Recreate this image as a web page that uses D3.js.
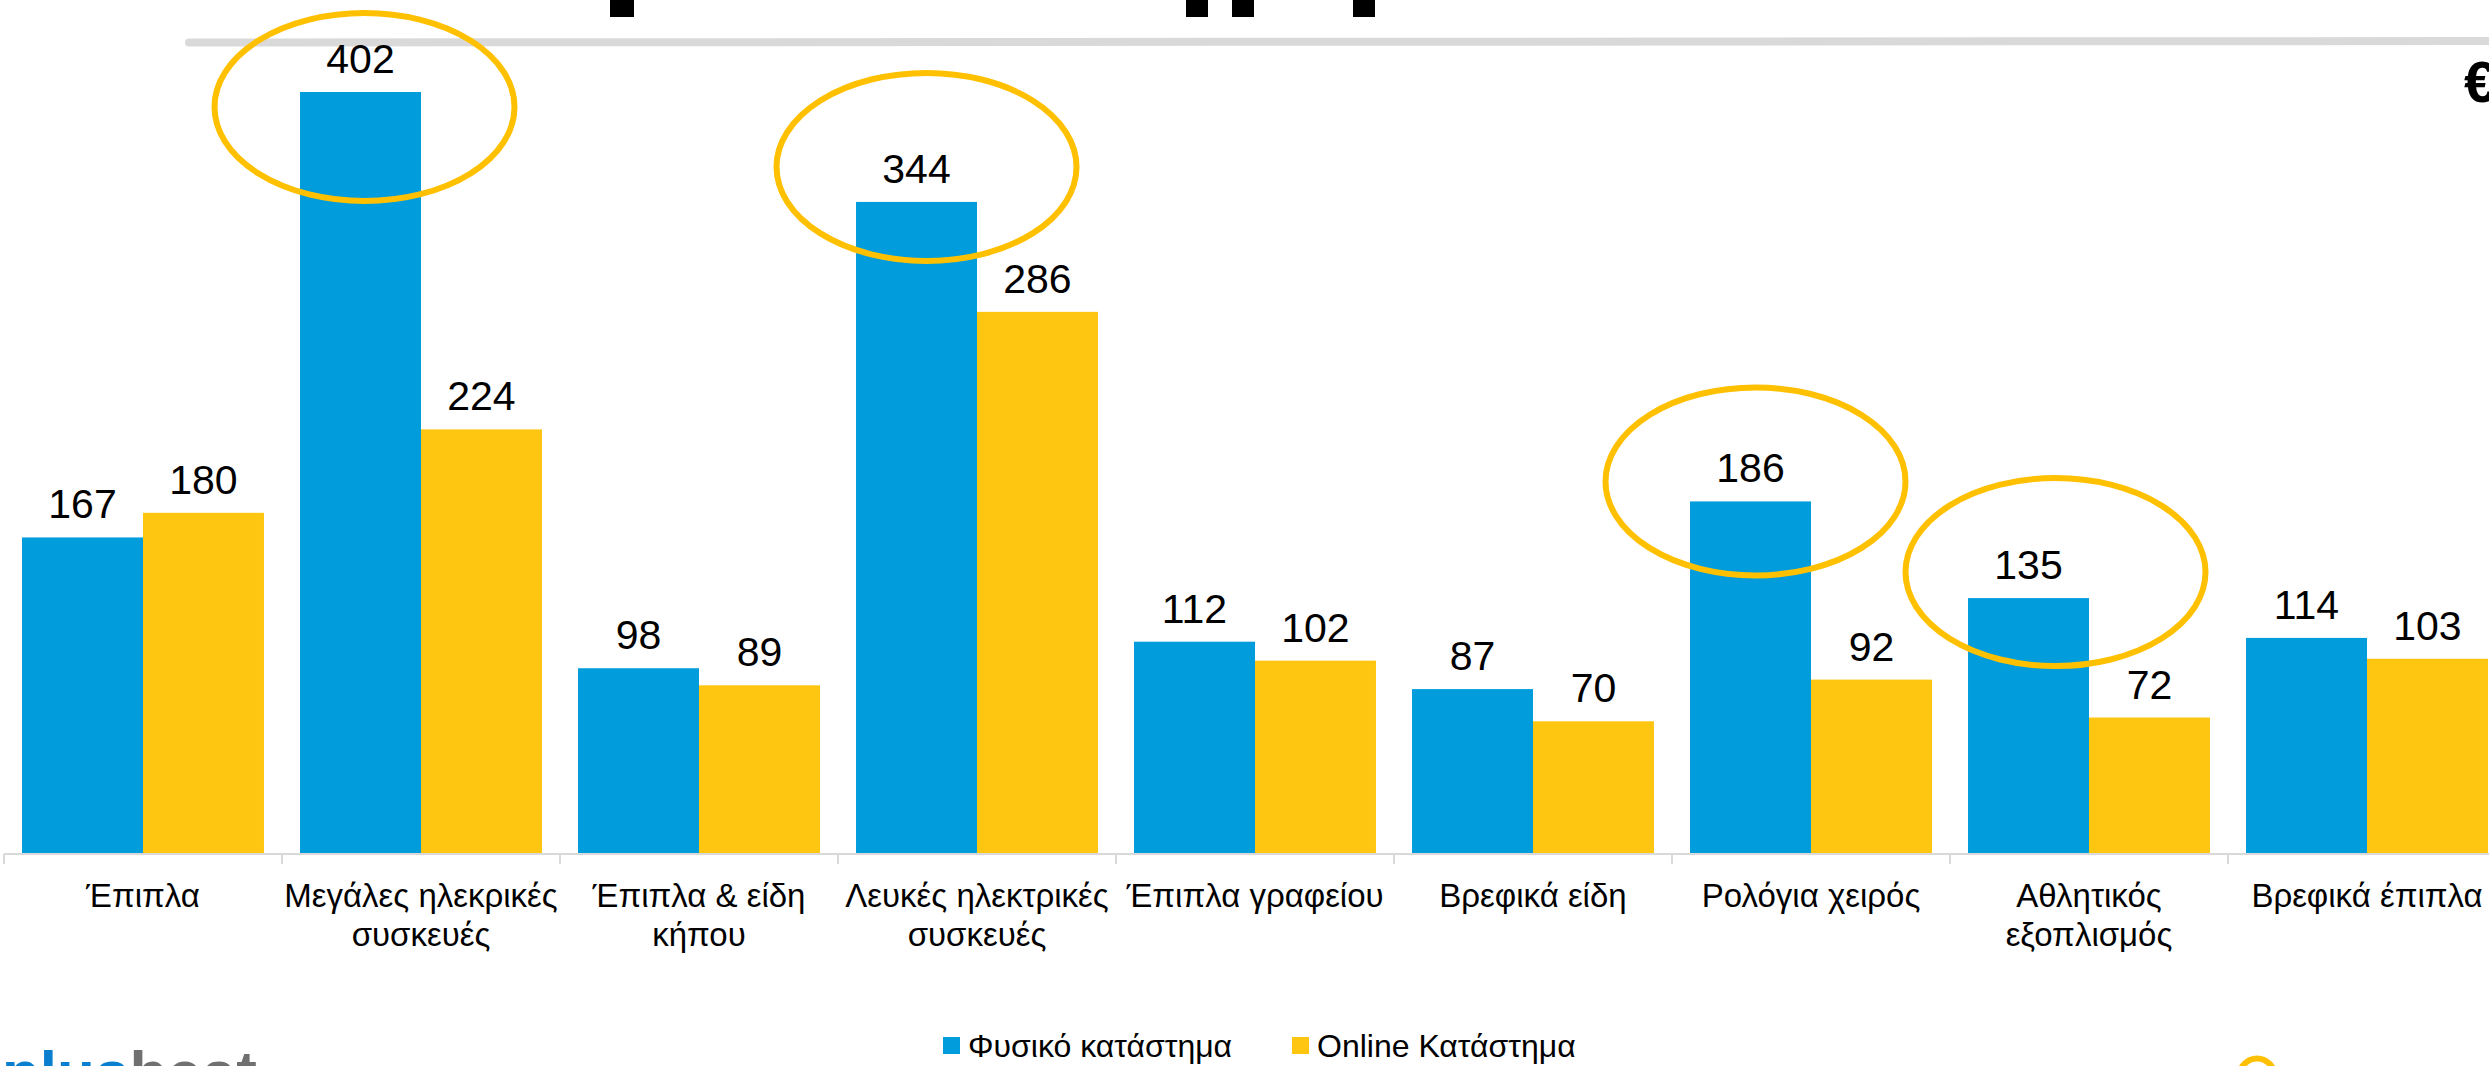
<!DOCTYPE html>
<html lang="el">
<head>
  <meta charset="UTF-8">
  <title>Φυσικό vs Online κατάστημα</title>
  <script src="https://d3js.org/d3.v7.min.js"></script>
  <style>
    body { margin: 0; background: #fff; }
    svg { display: block; font-family: "Liberation Sans", Arial, sans-serif; }
  </style>
</head>
<body>
<svg id="chart"></svg>
<script>
  // data
  const categories = ["Έπιπλα", "Μεγάλες ηλεκρικές συσκευές", "Έπιπλα & είδη κήπου",
    "Λευκές ηλεκτρικές συσκευές", "Έπιπλα γραφείου", "Βρεφικά είδη",
    "Ρολόγια χειρός", "Αθλητικός εξοπλισμός", "Βρεφικά έπιπλα"];
  const tickLabels = [["Έπιπλα"], ["Μεγάλες ηλεκρικές", "συσκευές"], ["Έπιπλα & είδη", "κήπου"],
    ["Λευκές ηλεκτρικές", "συσκευές"], ["Έπιπλα γραφείου"], ["Βρεφικά είδη"],
    ["Ρολόγια χειρός"], ["Αθλητικός", "εξοπλισμός"], ["Βρεφικά έπιπλα"]];
  const seriesNames = ["Φυσικό κατάστημα", "Online Κατάστημα"];
  const physical = [167, 402, 98, 344, 112, 87, 186, 135, 114];
  const online = [180, 224, 89, 286, 102, 70, 92, 72, 103];
  // categories circled on the physical-store bars
  const highlighted = ["Μεγάλες ηλεκρικές συσκευές", "Λευκές ηλεκτρικές συσκευές",
    "Ρολόγια χειρός", "Αθλητικός εξοπλισμός"];
  // small hand nudges for the circles (they were drawn by hand on the slide)
  const circleNudge = [[4, 15], [10, -35], [5, -20], [27, -26]];

  const W = 2489, H = 1066;
  const blue = "#009cdc", yellow = "#fec511", ring = "#ffc000";

  const svg = d3.select("#chart").attr("width", W).attr("height", H);

  const rows = categories.map((c, i) => ({ cat: c, values: [physical[i], online[i]] }));

  // scales
  const x0 = d3.scaleBand().domain(categories).range([4, 2506]).padding(0);
  const x1 = d3.scaleBand().domain(seriesNames).range([0, x0.bandwidth()]).paddingOuter(0.149);
  const y = d3.scaleLinear().domain([0, 450]).range([854, 1]);
  const color = d3.scaleOrdinal().domain(seriesNames).range([blue, yellow]);

  // header rule + cut-off title pieces + euro sign
  svg.append("line")
    .attr("x1", 189).attr("y1", 42.5).attr("x2", W + 10).attr("y2", 41)
    .attr("stroke", "#d9d9d9").attr("stroke-width", 8).attr("stroke-linecap", "round");
  svg.append("g").selectAll("rect")
    .data([[610, 24], [1186, 22], [1232, 22], [1353, 22]])
    .join("rect")
    .attr("x", d => d[0]).attr("y", 0).attr("width", d => d[1]).attr("height", 17)
    .attr("fill", "#000");
  svg.append("text").attr("x", 2464).attr("y", 102)
    .style("font-size", "58px").style("font-weight", "bold").text("€");

  // bars
  const groups = svg.append("g").selectAll("g")
    .data(rows)
    .join("g")
    .attr("transform", d => "translate(" + x0(d.cat) + ",0)");

  groups.selectAll("rect")
    .data(d => d.values.map((v, j) => ({ key: seriesNames[j], value: v })))
    .join("rect")
    .attr("x", d => x1(d.key))
    .attr("y", d => y(d.value))
    .attr("width", x1.bandwidth())
    .attr("height", d => y(0) - y(d.value))
    .attr("fill", d => color(d.key));

  groups.selectAll("text")
    .data(d => d.values.map((v, j) => ({ key: seriesNames[j], value: v })))
    .join("text")
    .attr("x", d => x1(d.key) + x1.bandwidth() / 2)
    .attr("y", d => y(d.value) - 19)
    .attr("text-anchor", "middle")
    .style("font-size", "41px")
    .text(d => d.value);

  // x axis: baseline, boundary ticks, wrapped labels
  const axis = svg.append("g");
  axis.append("line")
    .attr("x1", x0.range()[0]).attr("x2", W).attr("y1", y(0)).attr("y2", y(0))
    .attr("stroke", "#d9d9d9").attr("stroke-width", 2);
  axis.selectAll(".tick")
    .data(categories)
    .join("line")
    .attr("class", "tick")
    .attr("x1", d => x0(d)).attr("x2", d => x0(d))
    .attr("y1", y(0)).attr("y2", y(0) + 10)
    .attr("stroke", "#d9d9d9").attr("stroke-width", 2);

  const labels = axis.selectAll(".cat")
    .data(categories)
    .join("text")
    .attr("class", "cat")
    .attr("text-anchor", "middle")
    .style("font-size", "33px");
  labels.selectAll("tspan")
    .data((d, i) => tickLabels[i].map(t => ({ t, c: d })))
    .join("tspan")
    .attr("x", d => x0(d.c) + x0.bandwidth() / 2)
    .attr("y", (d, k) => y(0) + 53 + k * 39)
    .text(d => d.t);

  // hand-drawn highlight ellipses
  svg.append("g").selectAll("ellipse")
    .data(highlighted)
    .join("ellipse")
    .attr("cx", (c, i) => x0(c) + x1(seriesNames[0]) + x1.bandwidth() / 2 + circleNudge[i][0])
    .attr("cy", (c, i) => y(physical[categories.indexOf(c)]) + circleNudge[i][1])
    .attr("rx", 150).attr("ry", 94)
    .attr("fill", "none").attr("stroke", ring).attr("stroke-width", 6);

  // legend
  const legend = svg.append("g").selectAll("g")
    .data(seriesNames)
    .join("g")
    .attr("transform", (d, i) => "translate(" + (943 + i * 349) + ",0)");
  legend.append("rect")
    .attr("x", 0).attr("y", 1037).attr("width", 17).attr("height", 17)
    .attr("fill", d => color(d));
  legend.append("text")
    .attr("x", 25).attr("y", 1057)
    .style("font-size", "32px")
    .text(d => d);

  // logo fragments cut at the bottom edge
  const logo = svg.append("text").attr("x", 2).attr("y", 1094)
    .style("font-size", "62px").style("font-weight", "bold");
  logo.append("tspan").attr("fill", "#0a7fd0").text("plus");
  logo.append("tspan").attr("fill", "#707070").text("beat");
  svg.append("circle").attr("cx", 2257).attr("cy", 1076).attr("r", 17.5)
    .attr("fill", "none").attr("stroke", ring).attr("stroke-width", 6);
</script>
</body>
</html>
